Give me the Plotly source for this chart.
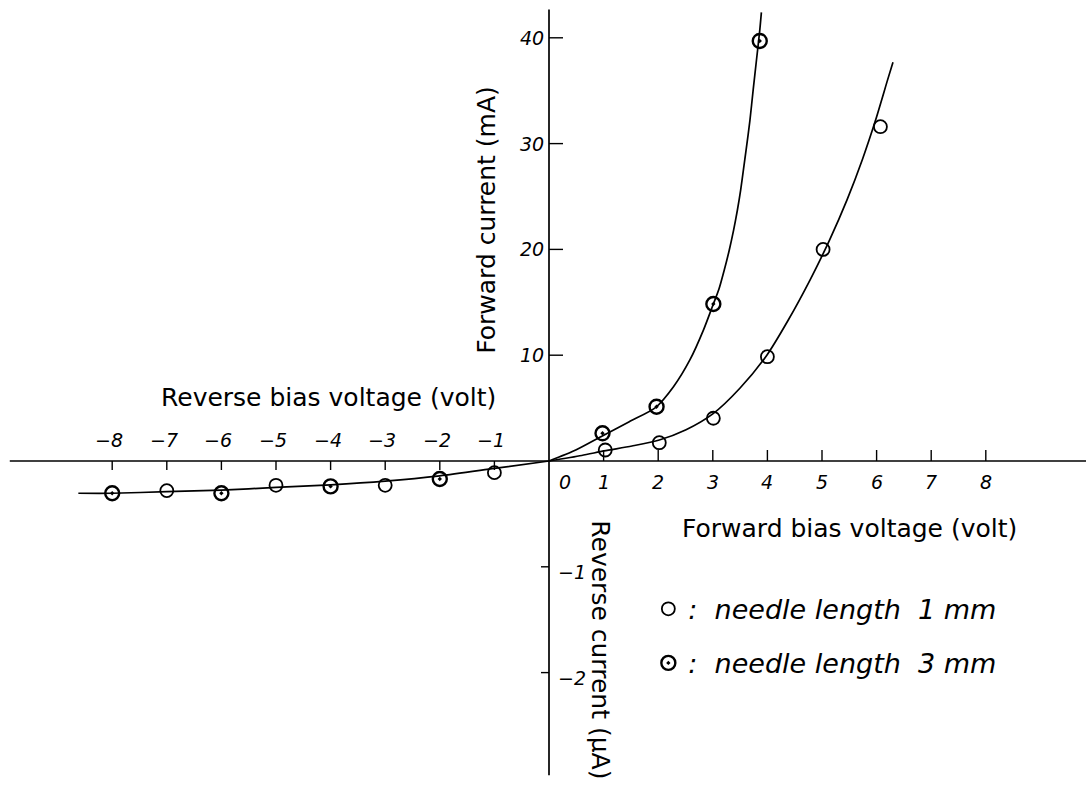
import plotly.graph_objects as go

# ---------------- data ----------------
# forward bias: voltage (V) vs forward current (mA)
fwd_v_1mm = [1.03, 2.02, 3.01, 4.0, 5.02, 6.07]
fwd_i_1mm = [1.04, 1.73, 4.04, 9.86, 20.0, 31.6]
fwd_v_3mm = [0.98, 1.97, 3.01, 3.86]
fwd_i_3mm = [2.62, 5.13, 14.84, 39.7]
# reverse bias: voltage (V) vs reverse current (uA)
rev_v_1mm = [-7, -5, -3, -1]
rev_i_1mm = [-0.28, -0.23, -0.23, -0.11]
rev_v_3mm = [-8, -6, -4, -2]
rev_i_3mm = [-0.305, -0.305, -0.24, -0.17]

# hand-drawn fitted curves
curve_v_1mm = [0, 0.60, 1.01, 1.52, 2.02, 2.51, 3.0, 3.5, 3.99, 4.38, 4.78, 5.14,
               5.46, 5.74, 5.98, 6.20, 6.30]
curve_i_1mm = [0, 0.52, 0.95, 1.42, 1.98, 2.95, 4.45, 6.9, 10.0, 13.3, 17.1, 20.9,
               24.7, 28.5, 32.2, 36.0, 37.7]
curve_v_3mm = [0, 0.49, 0.95, 1.47, 1.95, 2.28, 2.58, 2.83, 3.01, 3.11, 3.21, 3.30,
               3.38, 3.45, 3.51, 3.56, 3.61, 3.68, 3.74, 3.80, 3.86, 3.89]
curve_i_3mm = [0, 1.04, 2.3, 3.72, 5.05, 7.02, 9.55, 12.4, 14.84, 16.2, 18.05, 19.9,
               21.8, 23.7, 25.6, 27.5, 29.4, 32.2, 35.1, 37.9, 40.7, 42.4]
curve_v_rev = [-8.62, -8, -7, -6, -5, -4, -3, -2, -1, 0]
curve_i_rev = [-0.305, -0.305, -0.29, -0.275, -0.25, -0.225, -0.19, -0.14, -0.07, 0]

# tick values / labels
fwd_x_ticks = [1, 2, 3, 4, 5, 6, 7, 8]
fwd_x_labels = ["1", "2", "3", "4", "5", "6", "7", "8"]
rev_x_ticks = [-8, -7, -6, -5, -4, -3, -2, -1]
rev_x_labels = ["\u22128", "\u22127", "\u22126", "\u22125", "\u22124", "\u22123", "\u22122", "\u22121"]
fwd_y_ticks = [10, 20, 30, 40]
fwd_y_labels = ["10", "20", "30", "40"]
rev_y_ticks = [-1, -2]
rev_y_labels = ["\u22121", "\u22122"]

# ---------------- style ----------------
W, H = 1086, 787
X_ORIGIN_PX, X_PX_PER_V = 549, 54.6
Y_ORIGIN_PX, Y_PX_PER_MA = 461, 10.58
UA_SCALE = 10.0  # 1 uA drawn as long as 10 mA
FONT = "DejaVu Sans"
INK = "black"

x_range = [-X_ORIGIN_PX / X_PX_PER_V, (W - X_ORIGIN_PX) / X_PX_PER_V]
y_range = [(Y_ORIGIN_PX - H) / Y_PX_PER_MA, Y_ORIGIN_PX / Y_PX_PER_MA]
y2_range = [y_range[0] / UA_SCALE, y_range[1] / UA_SCALE]

fig = go.Figure()

line_style = dict(color=INK, width=1.7, shape="spline", smoothing=0.7)
fig.add_trace(go.Scatter(x=curve_v_1mm, y=curve_i_1mm, mode="lines", line=line_style,
                         showlegend=False, hoverinfo="skip"))
fig.add_trace(go.Scatter(x=curve_v_3mm, y=curve_i_3mm, mode="lines", line=line_style,
                         showlegend=False, hoverinfo="skip"))
fig.add_trace(go.Scatter(x=curve_v_rev, y=curve_i_rev, mode="lines", line=line_style,
                         yaxis="y2", showlegend=False, hoverinfo="skip"))

m1 = dict(symbol="circle-open", size=13, color=INK, line=dict(width=1.8, color=INK))
m3 = dict(symbol="circle-open-dot", size=14, color=INK, line=dict(width=2.4, color=INK))

fig.add_trace(go.Scatter(x=fwd_v_1mm, y=fwd_i_1mm, mode="markers", marker=m1,
                         name=":  needle length  1 mm", legendgroup="a"))
fig.add_trace(go.Scatter(x=fwd_v_3mm, y=fwd_i_3mm, mode="markers", marker=m3,
                         name=":  needle length  3 mm", legendgroup="b"))
fig.add_trace(go.Scatter(x=rev_v_1mm, y=rev_i_1mm, mode="markers", marker=m1, yaxis="y2",
                         showlegend=False, legendgroup="a"))
fig.add_trace(go.Scatter(x=rev_v_3mm, y=rev_i_3mm, mode="markers", marker=m3, yaxis="y2",
                         showlegend=False, legendgroup="b"))

shapes = []
# axes lines
shapes.append(dict(type="line", xref="paper", yref="y", x0=0.009, x1=1.0, y0=0, y1=0,
                   line=dict(color=INK, width=1.7)))
shapes.append(dict(type="line", xref="x", yref="paper", x0=0, x1=0, y0=0.015, y1=0.988,
                   line=dict(color=INK, width=1.7)))
# ticks
for v in fwd_x_ticks:
    shapes.append(dict(type="line", xref="x", yref="y", x0=v, x1=v, ysizemode="pixel",
                       yanchor=0, y0=0, y1=11, line=dict(color=INK, width=1.4)))
for v in rev_x_ticks:
    shapes.append(dict(type="line", xref="x", yref="y", x0=v, x1=v, ysizemode="pixel",
                       yanchor=0, y0=0, y1=-9, line=dict(color=INK, width=1.4)))
for v in fwd_y_ticks:
    shapes.append(dict(type="line", xref="x", yref="y", y0=v, y1=v, xsizemode="pixel",
                       xanchor=0, x0=0, x1=14, line=dict(color=INK, width=1.4)))
for v in rev_y_ticks:
    shapes.append(dict(type="line", xref="x", yref="y2", y0=v, y1=v, xsizemode="pixel",
                       xanchor=0, x0=0, x1=-8, line=dict(color=INK, width=1.4)))

ann = []
tick_font = dict(family=FONT, size=19, color=INK, style="italic")
for v, t in zip(fwd_x_ticks, fwd_x_labels):
    ann.append(dict(x=v, y=0, xref="x", yref="y", text=t, showarrow=False,
                    yshift=-21, font=tick_font))
ann.append(dict(x=0, y=0, xref="x", yref="y", text="0", showarrow=False,
                xshift=16, yshift=-21, font=tick_font))
for v, t in zip(rev_x_ticks, rev_x_labels):
    ann.append(dict(x=v, y=0, xref="x", yref="y", text=t, showarrow=False,
                    xshift=-3, yshift=21, font=tick_font))
for v, t in zip(fwd_y_ticks, fwd_y_labels):
    ann.append(dict(x=0, y=v, xref="x", yref="y", text=t, showarrow=False,
                    xanchor="right", xshift=-3, font=tick_font))
for v, t in zip(rev_y_ticks, rev_y_labels):
    ann.append(dict(x=0, y=v, xref="x", yref="y2", text=t, showarrow=False,
                    xanchor="left", xshift=7, yshift=-5, font=tick_font))

title_font = dict(family=FONT, size=25, color=INK)
ann.append(dict(x=0, y=22.8, xref="x", yref="y", text="Forward current (mA)", showarrow=False,
                textangle=-90, xshift=-62, font=title_font))
ann.append(dict(x=0, y=-1.78, xref="x", yref="y2", text="Reverse current (\u03bcA)", showarrow=False,
                textangle=90, xshift=52, font=title_font))
ann.append(dict(x=-4.03, y=0, xref="x", yref="y", text="Reverse bias voltage (volt)",
                showarrow=False, yshift=64, font=title_font))
ann.append(dict(x=5.5, y=0, xref="x", yref="y", text="Forward bias voltage (volt)",
                showarrow=False, yshift=-67, font=title_font))

fig.update_layout(
    width=W, height=H,
    margin=dict(l=0, r=0, t=0, b=0),
    paper_bgcolor="white", plot_bgcolor="white",
    xaxis=dict(range=x_range, visible=False, fixedrange=True),
    yaxis=dict(range=y_range, visible=False, fixedrange=True),
    yaxis2=dict(range=y2_range, visible=False, overlaying="y", fixedrange=True),
    shapes=shapes, annotations=ann,
    showlegend=True,
    legend=dict(x=0.597, y=0.257, xanchor="left", yanchor="top", bgcolor="rgba(0,0,0,0)",
                font=dict(family=FONT, size=27, color=INK, style="italic"),
                itemsizing="trace", tracegroupgap=16),
)

fig.write_html("out.html")
